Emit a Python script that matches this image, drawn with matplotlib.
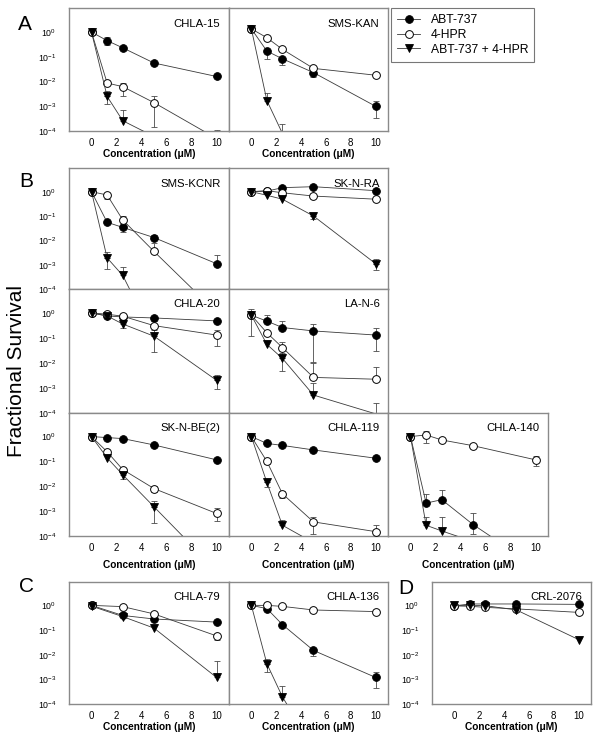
import numpy as np
import matplotlib
matplotlib.use("Agg")
import matplotlib.pyplot as plt
from matplotlib.lines import Line2D
from matplotlib.ticker import FixedLocator, FuncFormatter

plt.rcParams['font.family'] = ['Liberation Sans', 'DejaVu Sans']
plt.rcParams['mathtext.fontset'] = 'custom'
plt.rcParams['mathtext.rm'] = 'Liberation Sans'
plt.rcParams['mathtext.it'] = 'Liberation Sans:italic'
plt.rcParams['mathtext.bf'] = 'Liberation Sans:bold'

N = None
conc = [0, 1.25, 2.5, 5, 10]
conc_chla79 = [0, 2.5, 5, 10]
xticks = [0, 2, 4, 6, 8, 10]
yticks = [1e0, 1e-1, 1e-2, 1e-3, 1e-4]
series_labels = ["ABT-737", "4-HPR", "ABT-737 + 4-HPR"]

# ---- A: CHLA-15
chla15_abt = [1.0, 0.45, 0.23, 0.056, 0.016]
chla15_abt_hi = [N, 0.61, N, N, 0.02]
chla15_abt_lo = [N, 0.30, N, N, N]
chla15_hpr = [1.0, 0.0087, 0.0062, 0.0014, 5e-5]
chla15_hpr_hi = [N, N, 0.0089, 0.0025, 1.1e-4]
chla15_hpr_lo = [N, N, 0.0025, 1.5e-4, N]
chla15_combo = [1.0, 0.0025, 2.6e-4, 6e-5, 1e-6]
chla15_combo_hi = [N, 0.0042, 7e-4, N, N]
chla15_combo_lo = [N, 0.0012, N, N, N]

# ---- A: SMS-KAN
smskan_abt = [1.35, 0.17, 0.083, 0.023, 1.0e-3]
smskan_abt_hi = [N, N, N, N, 1.6e-3]
smskan_abt_lo = [N, 0.079, 0.045, 0.015, 3.5e-4]
smskan_hpr = [1.35, 0.59, 0.2, 0.034, 0.018]
smskan_hpr_hi = [N, N, 0.26, N, N]
smskan_hpr_lo = [N, N, N, N, N]
smskan_combo = [1.35, 1.7e-3, 8e-5, 1e-6, 1e-7]
smskan_combo_hi = [N, 3.3e-3, 2e-4, N, N]
smskan_combo_lo = [N, N, N, N, N]

# ---- B: SMS-KCNR
kcnr_abt = [1.0, 0.055, 0.034, 0.013, 1.1e-3]
kcnr_abt_hi = [N, N, N, 0.016, 2.4e-3]
kcnr_abt_lo = [N, N, 0.022, N, N]
kcnr_hpr = [1.0, 0.73, 0.069, 0.0035, 1.1e-5]
kcnr_hpr_hi = [N, N, 0.1, 0.0076, N]
kcnr_hpr_lo = [N, 0.5, N, N, N]
kcnr_combo = [1.0, 1.9e-3, 3.6e-4, 1e-6, 1e-7]
kcnr_combo_hi = [N, 3.4e-3, 7.8e-4, N, N]
kcnr_combo_lo = [N, 6.6e-4, N, N, N]

# ---- B: SK-N-RA
sknra_abt = [1.0, 1.05, 1.46, 1.6, 1.1]
sknra_abt_hi = [N, N, N, N, N]
sknra_abt_lo = [N, N, N, N, N]
sknra_hpr = [1.0, 1.1, 0.9, 0.66, 0.49]
sknra_hpr_hi = [N, N, N, N, N]
sknra_hpr_lo = [N, N, N, N, N]
sknra_combo = [1.0, 0.71, 0.49, 0.10, 1.1e-3]
sknra_combo_hi = [N, N, N, 0.138, 1.7e-3]
sknra_combo_lo = [N, N, N, 0.072, 6e-4]

# ---- B: CHLA-20
chla20_abt = [1.0, 0.76, 0.69, 0.63, 0.48]
chla20_abt_hi = [N, N, N, N, N]
chla20_abt_lo = [N, N, N, N, N]
chla20_hpr = [1.0, 0.89, 0.74, 0.31, 0.13]
chla20_hpr_hi = [N, N, N, 0.48, 0.2]
chla20_hpr_lo = [N, N, N, N, 0.047]
chla20_combo = [1.0, 0.76, 0.36, 0.117, 2.0e-3]
chla20_combo_hi = [N, N, N, 0.2, 3.4e-3]
chla20_combo_lo = [N, N, 0.24, 0.028, 8.9e-4]

# ---- B: LA-N-6
lan6_abt = [0.81, 0.47, 0.26, 0.19, 0.13]
lan6_abt_hi = [1.5, 0.86, 0.48, 0.35, 0.24]
lan6_abt_lo = [0.117, N, N, 0.0105, 0.03]
lan6_hpr = [0.81, 0.16, 0.041, 2.6e-3, 2.2e-3]
lan6_hpr_hi = [N, N, 0.069, 0.01, 0.0066]
lan6_hpr_lo = [N, N, 0.025, N, N]
lan6_combo = [0.81, 0.055, 0.015, 5.1e-4, 9e-5]
lan6_combo_hi = [N, N, 0.032, 1.5e-3, 2.5e-4]
lan6_combo_lo = [N, N, 4.8e-3, N, N]

# ---- B: SK-N-BE(2)
sknbe2_abt = [1.0, 0.91, 0.83, 0.46, 0.116]
sknbe2_abt_hi = [N, N, N, N, N]
sknbe2_abt_lo = [N, N, N, N, N]
sknbe2_hpr = [1.0, 0.245, 0.047, 8.1e-3, 8.1e-4]
sknbe2_hpr_hi = [N, N, N, 0.0105, 1.3e-3]
sknbe2_hpr_lo = [N, N, N, 0.0059, 4.2e-4]
sknbe2_combo = [1.0, 0.14, 0.029, 1.5e-3, 4e-6]
sknbe2_combo_hi = [N, N, N, 2.6e-3, N]
sknbe2_combo_lo = [0.8, N, 0.019, 3.4e-4, N]

# ---- B: CHLA-119
chla119_abt = [1.0, 0.53, 0.44, 0.29, 0.135]
chla119_abt_hi = [N, N, N, N, N]
chla119_abt_lo = [N, N, N, N, N]
chla119_hpr = [1.0, 0.10, 5e-3, 3.7e-4, 1.5e-4]
chla119_hpr_hi = [N, 0.13, 6.2e-3, 5.9e-4, 2.8e-4]
chla119_hpr_lo = [N, 0.08, 3.3e-3, 1.15e-4, N]
chla119_combo = [1.0, 0.0142, 2.7e-4, 5.4e-5, 1e-6]
chla119_combo_hi = [N, 0.0195, 4.4e-4, N, N]
chla119_combo_lo = [N, 9.3e-3, N, N, N]

# ---- B: CHLA-140
chla140_abt = [1.0, 2.1e-3, 2.9e-3, 2.9e-4, 6e-6]
chla140_abt_hi = [N, 5.1e-3, 7.1e-3, 8.1e-4, N]
chla140_abt_lo = [N, N, N, 1.15e-4, N]
chla140_hpr = [1.0, 1.16, 0.73, 0.43, 0.116]
chla140_hpr_hi = [N, 1.74, N, N, 0.17]
chla140_hpr_lo = [N, 0.54, N, N, 0.063]
chla140_combo = [1.0, 2.7e-4, 1.6e-4, 6e-5, 1e-6]
chla140_combo_hi = [N, 6e-4, 6e-4, N, N]
chla140_combo_lo = [N, N, N, N, N]

# ---- C: CHLA-79 (no 1.25 uM point)
chla79_abt = [1.0, 0.39, 0.28, 0.21]
chla79_abt_hi = [N, N, N, N]
chla79_abt_lo = [N, N, N, N]
chla79_hpr = [1.0, 0.89, 0.45, 0.058]
chla79_hpr_hi = [N, N, N, N]
chla79_hpr_lo = [N, N, N, 0.038]
chla79_combo = [0.93, 0.35, 0.12, 1.2e-3]
chla79_combo_hi = [N, N, N, 5.4e-3]
chla79_combo_lo = [N, N, N, N]

# ---- C: CHLA-136
chla136_abt = [1.0, 0.74, 0.166, 0.0149, 1.2e-3]
chla136_abt_hi = [N, N, N, 0.0195, 2.0e-3]
chla136_abt_lo = [N, N, N, 8.5e-3, 4.3e-4]
chla136_hpr = [1.0, 1.0, 0.91, 0.65, 0.56]
chla136_hpr_hi = [N, N, N, N, N]
chla136_hpr_lo = [N, N, N, N, N]
chla136_combo = [1.0, 4.3e-3, 1.95e-4, 1.6e-6, 1e-7]
chla136_combo_hi = [N, 6.9e-3, 5.2e-4, N, N]
chla136_combo_lo = [N, 2.0e-3, N, N, N]

# ---- D: CRL-2076
crl2076_abt = [0.95, 1.14, 1.14, 1.14, 1.1]
crl2076_abt_hi = [N, N, N, N, N]
crl2076_abt_lo = [N, N, N, N, N]
crl2076_hpr = [0.95, 0.92, 0.83, 0.72, 0.52]
crl2076_hpr_hi = [N, N, N, N, N]
crl2076_hpr_lo = [N, N, N, N, N]
crl2076_combo = [1.0, 1.0, 0.97, 0.65, 0.041]
crl2076_combo_hi = [N, N, N, N, N]
crl2076_combo_lo = [N, N, N, N, N]

# ---------------- drawing ----------------
W, H = 600, 742
fig = plt.figure(figsize=(W / 100, H / 100), dpi=100)

YMIN = 1e-4
SPINE = '#8a8a8a'
LINE = '#3a3a3a'
ERR = '#4a4a4a'
STYLES = [
    dict(marker='o', ms=5.6, mfc='black', mec='black', mew=0.6),
    dict(marker='o', ms=5.6, mfc='white', mec='black', mew=0.7),
    dict(marker='v', ms=6.0, mfc='black', mec='black', mew=0.6),
]


def arr(v):
    return np.array([np.nan if a is None else a for a in v], dtype=float)


def make_ax(x0, x1, ytop, ybot):
    ax = fig.add_axes([x0 / W, 1 - ybot / H, (x1 - x0) / W, (ybot - ytop) / H])
    ax.set_yscale('log')
    ax.set_ylim(YMIN, 10 ** 0.96)
    ax.set_xlim(-1.8, 11)
    ax.yaxis.set_major_locator(FixedLocator(yticks))
    ax.yaxis.set_minor_locator(FixedLocator([]))
    ax.yaxis.set_major_formatter(
        FuncFormatter(lambda v, p: r'$\mathregular{10^{%d}}$' % round(np.log10(v))))
    ax.set_xticks(xticks)
    ax.tick_params(axis='both', length=0)
    ax.tick_params(axis='y', labelsize=6.3, pad=9)
    ax.tick_params(axis='x', labelsize=7, pad=5)
    for s in ax.spines.values():
        s.set_color(SPINE)
        s.set_linewidth(1.0)
    return ax


def plot_panel(ax, x, data, title, ylab=True, xlab=False, labelpad=1.0):
    x = np.asarray(x, dtype=float)
    for k, (vals, hi, lo) in enumerate(data):
        v = arr(vals)
        h = arr(hi)
        l = arr(lo)
        m = ~np.isnan(h)
        if m.any():
            ax.errorbar(x[m], v[m], yerr=[np.zeros(m.sum()), h[m] - v[m]], fmt='none',
                        ecolor=ERR, elinewidth=0.6, capsize=2.4, capthick=0.6, zorder=2)
        m = ~np.isnan(l)
        if m.any():
            ax.errorbar(x[m], v[m], yerr=[v[m] - l[m], np.zeros(m.sum())], fmt='none',
                        ecolor=ERR, elinewidth=0.6, capsize=2.4, capthick=0.6, zorder=2)
        ax.plot(x, v, color=LINE, lw=0.6, zorder=3 + k)
        inside = v >= YMIN
        ax.plot(x[inside], v[inside], ls='none', zorder=3.5 + k, **STYLES[k])
    w = ax.get_position().width * W
    h = ax.get_position().height * H
    ax.text(1 - 8.5 / w, 1 - 15.5 / h, title, transform=ax.transAxes,
            ha='right', va='center', fontsize=8.2)
    if not ylab:
        ax.tick_params(axis='y', labelleft=False)
    if xlab:
        ax.set_xlabel('Concentration (\u03bcM)', fontsize=7.3, fontweight='bold',
                      labelpad=labelpad)
    else:
        ax.tick_params(axis='x', labelbottom=False)


C1, C2, C3, C4 = 69, 229, 388, 548

ax = make_ax(C1, C2, 8.3, 131)
plot_panel(ax, conc, [(chla15_abt, chla15_abt_hi, chla15_abt_lo),
                      (chla15_hpr, chla15_hpr_hi, chla15_hpr_lo),
                      (chla15_combo, chla15_combo_hi, chla15_combo_lo)],
           'CHLA-15', ylab=True, xlab=True)
ax = make_ax(C2, C3, 8.3, 131)
plot_panel(ax, conc, [(smskan_abt, smskan_abt_hi, smskan_abt_lo),
                      (smskan_hpr, smskan_hpr_hi, smskan_hpr_lo),
                      (smskan_combo, smskan_combo_hi, smskan_combo_lo)],
           'SMS-KAN', ylab=False, xlab=True)

ax = make_ax(C1, C2, 168.3, 289)
plot_panel(ax, conc, [(kcnr_abt, kcnr_abt_hi, kcnr_abt_lo),
                      (kcnr_hpr, kcnr_hpr_hi, kcnr_hpr_lo),
                      (kcnr_combo, kcnr_combo_hi, kcnr_combo_lo)],
           'SMS-KCNR', ylab=True)
ax = make_ax(C2, C3, 168.3, 289)
plot_panel(ax, conc, [(sknra_abt, sknra_abt_hi, sknra_abt_lo),
                      (sknra_hpr, sknra_hpr_hi, sknra_hpr_lo),
                      (sknra_combo, sknra_combo_hi, sknra_combo_lo)],
           'SK-N-RA', ylab=False)

ax = make_ax(C1, C2, 289, 412.7)
plot_panel(ax, conc, [(chla20_abt, chla20_abt_hi, chla20_abt_lo),
                      (chla20_hpr, chla20_hpr_hi, chla20_hpr_lo),
                      (chla20_combo, chla20_combo_hi, chla20_combo_lo)],
           'CHLA-20', ylab=True)
ax = make_ax(C2, C3, 289, 412.7)
plot_panel(ax, conc, [(lan6_abt, lan6_abt_hi, lan6_abt_lo),
                      (lan6_hpr, lan6_hpr_hi, lan6_hpr_lo),
                      (lan6_combo, lan6_combo_hi, lan6_combo_lo)],
           'LA-N-6', ylab=False)

ax = make_ax(C1, C2, 412.7, 536)
plot_panel(ax, conc, [(sknbe2_abt, sknbe2_abt_hi, sknbe2_abt_lo),
                      (sknbe2_hpr, sknbe2_hpr_hi, sknbe2_hpr_lo),
                      (sknbe2_combo, sknbe2_combo_hi, sknbe2_combo_lo)],
           'SK-N-BE(2)', ylab=True, xlab=True, labelpad=5)
ax = make_ax(C2, C3, 412.7, 536)
plot_panel(ax, conc, [(chla119_abt, chla119_abt_hi, chla119_abt_lo),
                      (chla119_hpr, chla119_hpr_hi, chla119_hpr_lo),
                      (chla119_combo, chla119_combo_hi, chla119_combo_lo)],
           'CHLA-119', ylab=False, xlab=True, labelpad=5)
ax = make_ax(C3, C4, 412.7, 536)
plot_panel(ax, conc, [(chla140_abt, chla140_abt_hi, chla140_abt_lo),
                      (chla140_hpr, chla140_hpr_hi, chla140_hpr_lo),
                      (chla140_combo, chla140_combo_hi, chla140_combo_lo)],
           'CHLA-140', ylab=False, xlab=True, labelpad=5)

ax = make_ax(C1, C2, 581.7, 704)
plot_panel(ax, conc_chla79, [(chla79_abt, chla79_abt_hi, chla79_abt_lo),
                             (chla79_hpr, chla79_hpr_hi, chla79_hpr_lo),
                             (chla79_combo, chla79_combo_hi, chla79_combo_lo)],
           'CHLA-79', ylab=True, xlab=True)
ax = make_ax(C2, C3, 581.7, 704)
plot_panel(ax, conc, [(chla136_abt, chla136_abt_hi, chla136_abt_lo),
                      (chla136_hpr, chla136_hpr_hi, chla136_hpr_lo),
                      (chla136_combo, chla136_combo_hi, chla136_combo_lo)],
           'CHLA-136', ylab=False, xlab=True)

ax = make_ax(432, 591, 581.7, 704)
plot_panel(ax, conc, [(crl2076_abt, crl2076_abt_hi, crl2076_abt_lo),
                      (crl2076_hpr, crl2076_hpr_hi, crl2076_hpr_lo),
                      (crl2076_combo, crl2076_combo_hi, crl2076_combo_lo)],
           'CRL-2076', ylab=True, xlab=True)

# legend
handles = [Line2D([], [], color=LINE, lw=0.6, **STYLES[k]) for k in range(3)]
leg = fig.legend(handles, series_labels, loc='upper left',
                 bbox_to_anchor=(391 / W, 1 - 8.3 / H), borderaxespad=0,
                 fontsize=8.7, frameon=True, fancybox=False, edgecolor='#555555',
                 handlelength=1.9, handletextpad=0.9, labelspacing=0.22,
                 borderpad=0.5)
leg.get_frame().set_linewidth(0.8)

# panel letters and shared y label
for letter, px, py in [('A', 25, 24.5), ('B', 26.5, 181.5), ('C', 26.5, 586), ('D', 406, 588)]:
    fig.text(px / W, 1 - py / H, letter, fontsize=15, ha='center', va='center')
fig.text(17 / W, 1 - 371 / H, 'Fractional Survival', rotation=90, fontsize=15,
         ha='center', va='center')

fig.savefig('out.png', dpi=100)
